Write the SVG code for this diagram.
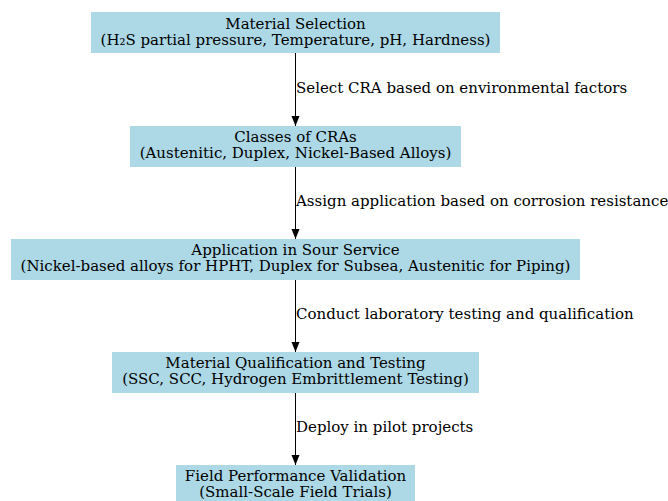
<svg xmlns="http://www.w3.org/2000/svg" width="668" height="501" viewBox="0 0 668 501">
<style>
.box{fill:#add8e6;stroke:#add8e6;stroke-width:1}
text{font-family:"DejaVu Serif",serif;font-size:15px;fill:#000}
.c{text-anchor:middle}
.edge{stroke:#000;stroke-width:1;fill:none}
</style>
<defs>
<marker id="ah" viewBox="0 0 10 10" refX="10" refY="5" markerWidth="10" markerHeight="10" markerUnits="userSpaceOnUse" orient="auto">
<path d="M0,1 L10,5 L0,9 z" fill="#000"/>
</marker>
</defs>
<rect width="668" height="501" fill="#fff"/>
<g id="connectors">
<line class="edge" x1="295.5" y1="53" x2="295.5" y2="126" marker-end="url(#ah)"/>
<text x="296" y="93">Select CRA based on environmental factors</text>
<line class="edge" x1="295.5" y1="167" x2="295.5" y2="239" marker-end="url(#ah)"/>
<text x="296" y="206">Assign application based on corrosion resistance</text>
<line class="edge" x1="295.5" y1="280" x2="295.5" y2="352" marker-end="url(#ah)"/>
<text x="296" y="319">Conduct laboratory testing and qualification</text>
<line class="edge" x1="295.5" y1="393" x2="295.5" y2="465" marker-end="url(#ah)"/>
<text x="296" y="432">Deploy in pilot projects</text>
</g>
<g id="n1">
<rect class="box" x="91.5" y="12.5" width="408" height="40"/>
<text class="c" x="295.5" y="29">Material Selection</text>
<text class="c" x="295.5" y="45">(H₂S partial pressure, Temperature, pH, Hardness)</text>
</g>
<g id="n2">
<rect class="box" x="130.5" y="126.5" width="330" height="40"/>
<text class="c" x="295.5" y="142">Classes of CRAs</text>
<text class="c" x="295.5" y="158">(Austenitic, Duplex, Nickel-Based Alloys)</text>
</g>
<g id="n3">
<rect class="box" x="11.5" y="239.5" width="568" height="40"/>
<text class="c" x="295.5" y="255">Application in Sour Service</text>
<text class="c" x="295.5" y="271">(Nickel-based alloys for HPHT, Duplex for Subsea, Austenitic for Piping)</text>
</g>
<g id="n4">
<rect class="box" x="112.5" y="352.5" width="366" height="40"/>
<text class="c" x="295.5" y="368">Material Qualification and Testing</text>
<text class="c" x="295.5" y="384">(SSC, SCC, Hydrogen Embrittlement Testing)</text>
</g>
<g id="n5">
<rect class="box" x="176.5" y="465.5" width="238" height="40"/>
<text class="c" x="295.5" y="481">Field Performance Validation</text>
<text class="c" x="295.5" y="497">(Small-Scale Field Trials)</text>
</g>
</svg>
